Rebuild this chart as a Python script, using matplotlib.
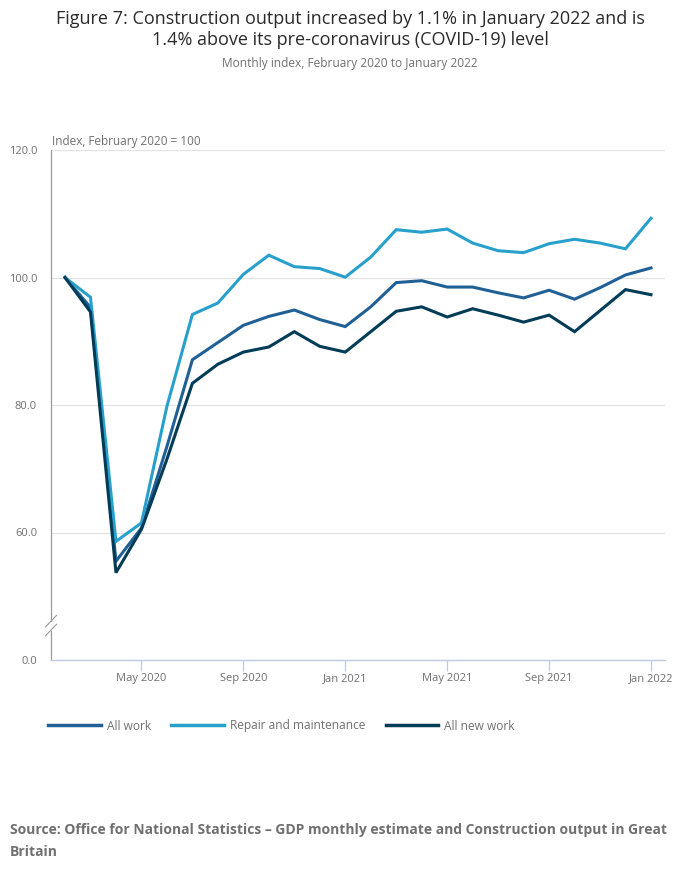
import matplotlib
matplotlib.use("Agg")
import matplotlib.pyplot as plt
from matplotlib.lines import Line2D
from matplotlib.patches import Rectangle

plt.rcParams['font.family'] = ['Open Sans', 'DejaVu Sans']

months = ["Feb 2020", "Mar 2020", "Apr 2020", "May 2020", "Jun 2020", "Jul 2020",
          "Aug 2020", "Sep 2020", "Oct 2020", "Nov 2020", "Dec 2020", "Jan 2021",
          "Feb 2021", "Mar 2021", "Apr 2021", "May 2021", "Jun 2021", "Jul 2021",
          "Aug 2021", "Sep 2021", "Oct 2021", "Nov 2021", "Dec 2021", "Jan 2022"]

all_work = [100.0, 95.3, 55.5, 60.7, 73.5, 87.1, 89.8, 92.5, 93.9, 94.9, 93.4, 92.3,
            95.4, 99.2, 99.5, 98.5, 98.5, 97.6, 96.8, 98.0, 96.6, 98.4, 100.4, 101.5]
repair = [100.0, 96.9, 58.6, 61.5, 79.8, 94.2, 96.0, 100.5, 103.5, 101.7, 101.4, 100.05,
          103.2, 107.5, 107.1, 107.6, 105.4, 104.2, 103.9, 105.3, 106.0, 105.4, 104.5, 109.3]
new_work = [100.0, 94.6, 53.7, 60.5, 71.5, 83.4, 86.4, 88.3, 89.1, 91.5, 89.2, 88.3,
            91.5, 94.7, 95.4, 93.8, 95.1, 94.1, 93.0, 94.1, 91.5, 94.8, 98.1, 97.3]

series_names = ["All work", "Repair and maintenance", "All new work"]
series_colors = ["#206095", "#27a0cc", "#003c57"]

tick_months = ["May 2020", "Sep 2020", "Jan 2021", "May 2021", "Sep 2021", "Jan 2022"]
y_ticks = [40, 60, 80, 100, 120]
y_tick_labels = ["0.0", "60.0", "80.0", "100.0", "120.0"]

W, H = 700, 882
fig = plt.figure(figsize=(W / 100, H / 100), dpi=100)
ax = fig.add_axes([51 / W, 1 - 660 / H, (665 - 51) / W, (660 - 150) / H])

x = list(range(len(months)))
for vals, name, col in zip([all_work, repair, new_work], series_names, series_colors):
    ax.plot(x, vals, color=col, lw=2.2, label=name, solid_joinstyle='miter', zorder=3)

ax.set_xlim(-0.55, 23.55)
ax.set_ylim(40, 120)
ax.set_yticks(y_ticks)
ax.set_yticklabels(y_tick_labels)
ax.set_xticks([months.index(m) for m in tick_months])
ax.set_xticklabels(tick_months)

for v in [60, 80, 100, 120]:
    ax.axhline(v, color="#e2e2e2", lw=0.9, zorder=1)

for s in ["top", "right"]:
    ax.spines[s].set_visible(False)
ax.spines["left"].set_color("#9a9a9a")
ax.spines["left"].set_linewidth(0.9)
ax.spines["bottom"].set_color("#bfcbe0")
ax.spines["bottom"].set_linewidth(1.0)

ax.tick_params(axis='y', length=0, pad=10, labelsize=8, labelcolor="#707071")
ax.tick_params(axis='x', length=8, width=0.9, color="#bfcbe0", pad=1.5,
               labelsize=8, labelcolor="#707071")

# axis break marks on the y axis
tr = ax.get_yaxis_transform()
ax.add_patch(Rectangle((-0.01, 44.6), 0.02, 1.4, transform=tr, color="white",
                       clip_on=False, zorder=5, lw=0))
for yc in [46.1, 44.7]:
    ax.plot([-0.009, 0.009], [yc - 0.9, yc + 0.9], transform=tr, color="#9a9a9a",
            lw=0.8, clip_on=False, zorder=6)

fig.text(52 / W, 1 - 142 / H, "Index, February 2020 = 100", fontsize=8.5,
         color="#707071", ha="left", va="center")

fig.text(0.5, 1 - 29.5 / H,
         "Figure 7: Construction output increased by 1.1% in January 2022 and is\n"
         "1.4% above its pre-coronavirus (COVID-19) level",
         fontsize=13, color="#2a2a2a", ha="center", va="center", linespacing=1.27)
fig.text(0.5, 1 - 64 / H, "Monthly index, February 2020 to January 2022",
         fontsize=8.6, color="#707071", ha="center", va="center")

handles = [Line2D([0], [0], color=c, lw=2.5) for c in series_colors]
fig.legend(handles, series_names, loc="center left",
           bbox_to_anchor=(48 / W, 1 - 726 / H), ncol=3, frameon=False,
           fontsize=8.6, handlelength=4.4, handletextpad=0.5, columnspacing=1.72,
           labelcolor="#707071", borderaxespad=0, borderpad=0)

fig.text(10 / W, 1 - 830 / H,
         "Source: Office for National Statistics \u2013 GDP monthly estimate and Construction output in Great",
         fontsize=10, fontweight="bold", color="#707071", ha="left", va="center")
fig.text(10 / W, 1 - 852 / H, "Britain", fontsize=10, fontweight="bold",
         color="#707071", ha="left", va="center")

fig.savefig("out.png", dpi=100, facecolor="white")
